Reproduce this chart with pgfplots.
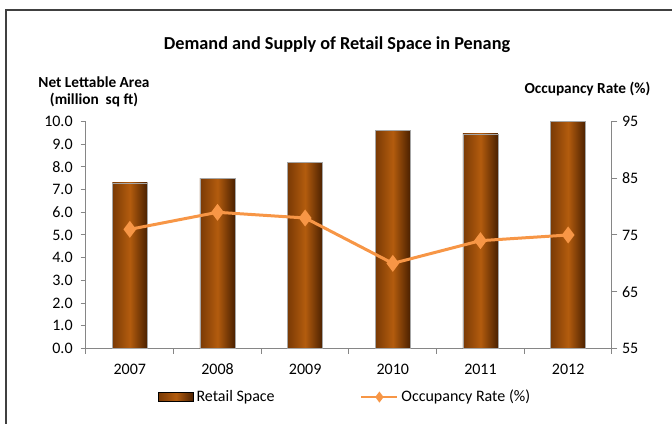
\documentclass[border=0pt]{standalone}
\usepackage{fontspec}
\setmainfont{Carlito}
\usepackage{pgfplots}
\pgfplotsset{compat=1.18}
\definecolor{barmid}{HTML}{B35C0E}
\definecolor{barleft}{HTML}{7A3A05}
\definecolor{barright}{HTML}{4A2000}
\definecolor{occ}{HTML}{F79646}
\definecolor{axgray}{HTML}{868686}
\definecolor{framec}{HTML}{404040}
\pgfplotsset{
  occlegend/.style={legend image code/.code={\draw[mark repeat=2,mark phase=2,##1,line width=2pt,mark size=2.5pt] plot coordinates {(0pt,0pt) (13.5pt,0pt) (27pt,0pt)};}},
  barlegend/.style={legend image code/.code={\fill[left color=barleft,right color=barright,middle color=barmid] (0pt,-3.4pt) rectangle (26.25pt,3.4pt);}},
  barsty/.style={ybar, bar width=26.25pt, draw=gray!70, line width=0.4pt,
    left color=barleft, right color=barright, middle color=barmid},
}
\begin{document}
\begin{tikzpicture}
\useasboundingbox (0,0) rectangle (504pt,318pt);
\draw[framec, line width=1.2pt] (4.5pt,0) -- (4.5pt,310.5pt) -- (504pt,310.5pt);
\node[font=\fontsize{13.7}{16}\selectfont\bfseries] at (252.75pt,284.25pt) {Demand and Supply of Retail Space in Penang};
\node[font=\fontsize{11.5}{13}\selectfont\bfseries, align=center] at (70.5pt,249pt) {Net Lettable Area\\(million\ \ sq ft)};
\node[font=\fontsize{11.5}{13}\selectfont\bfseries, anchor=east] at (491.25pt,251.25pt) {Occupancy Rate (\%)};
\begin{axis}[
  at={(64.5pt,56.625pt)}, anchor=south west, scale only axis,
  width=394.5pt, height=170.25pt,
  xmin=-0.5, xmax=5.5, ymin=0, ymax=10,
  axis y line*=left, axis x line*=bottom,
  axis line style={axgray, line width=0.75pt},
  tick style={axgray, line width=0.75pt},
  tick align=outside, major tick length=4pt,
  xtick={0,...,5},
  xticklabels={2007,2008,2009,2010,2011,2012},
  x tick style={draw=none},
  extra x ticks={-0.5,0.5,...,5.5}, extra x tick labels={},
  extra x tick style={x tick style={draw=axgray, line width=0.75pt}},
  xticklabel style={yshift=-4pt},
  ytick={0,1,...,10},
  /pgf/number format/assume math mode=true,
  yticklabel style={xshift=-2.5pt, /pgf/number format/.cd, fixed, fixed zerofill, precision=1},
  tick label style={font=\fontsize{12}{14}\selectfont},
]
\addplot[barsty] coordinates {(0,7.3)};
\addplot[barsty] coordinates {(1,7.5)};
\addplot[barsty] coordinates {(2,8.2)};
\addplot[barsty] coordinates {(3,9.6)};
\addplot[barsty] coordinates {(4,9.45)};
\addplot[barsty] coordinates {(5,10.0)};
\end{axis}
\begin{axis}[
  at={(64.5pt,56.625pt)}, anchor=south west, scale only axis,
  width=394.5pt, height=170.25pt,
  xmin=-0.5, xmax=5.5, ymin=55, ymax=95,
  axis y line*=right, axis x line=none,
  axis line style={axgray, line width=0.75pt},
  tick style={axgray, line width=0.75pt},
  tick align=outside, major tick length=4pt,
  ytick={55,65,...,95},
  /pgf/number format/assume math mode=true,
  tick label style={font=\fontsize{12}{14}\selectfont},
  legend columns=2,
  legend cell align=left,
  legend style={draw=none, fill=none, at={(0.137,-0.214)}, anchor=west,
    font=\fontsize{12}{14}\selectfont, inner xsep=0pt,
    /tikz/every even column/.append style={column sep=62pt}},
]
\addlegendimage{barlegend}
\addlegendentry{Retail Space}
\addplot[occ, line width=2.25pt, mark=diamond*, mark size=4.5pt, occlegend]
  coordinates {(0,76) (1,79) (2,78) (3,70) (4,74) (5,75)};
\addlegendentry{Occupancy Rate (\%)}
\end{axis}
\end{tikzpicture}
\end{document}
